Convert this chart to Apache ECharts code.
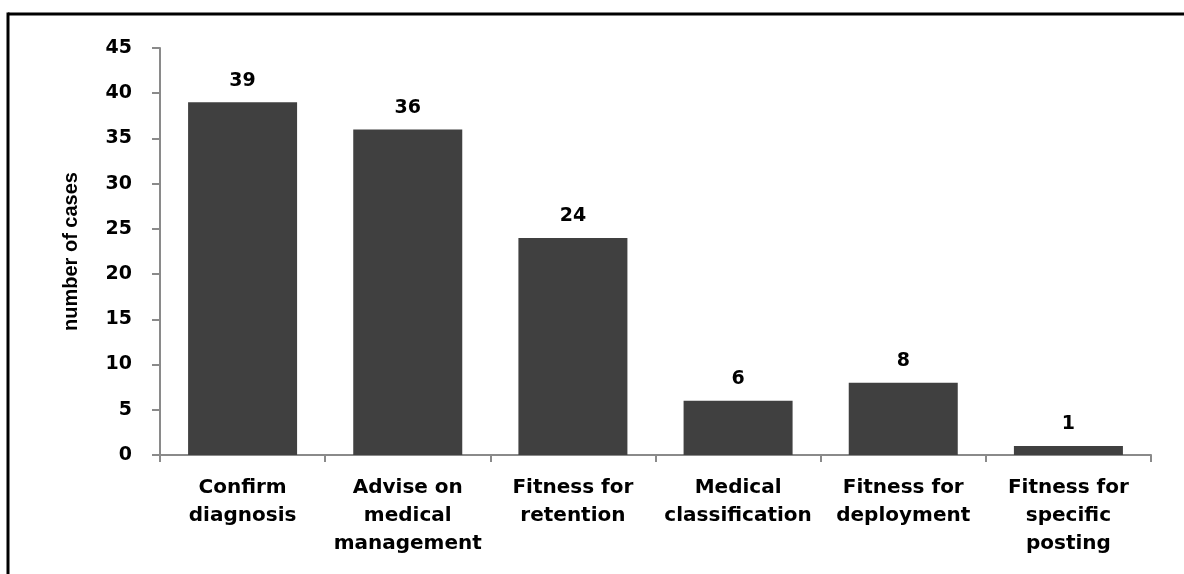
<!DOCTYPE html>
<html>
<head>
<meta charset="utf-8">
<script src="https://cdn.jsdelivr.net/npm/echarts@6/dist/echarts.min.js"></script>
<style>
html,body{margin:0;padding:0;background:#fff;overflow:hidden;}
#chart{width:1184px;height:574px;}
</style>
</head>
<body>
<div id="chart"></div>
<script>
var categories = ["Confirm\ndiagnosis", "Advise on\nmedical\nmanagement", "Fitness for\nretention", "Medical\nclassification", "Fitness for\ndeployment", "Fitness for\nspecific\nposting"];
var values = [39, 36, 24, 6, 8, 1];
var yTicks = {min: 0, max: 45, interval: 5};
var yName = "number of cases";

var chart = echarts.init(document.getElementById('chart'));
chart.setOption({
  animation: false,
  backgroundColor: '#ffffff',
  graphic: [
    {type: 'line', shape: {x1: 8, y1: 14, x2: 1184, y2: 14}, style: {stroke: '#000', lineWidth: 3, lineCap: 'butt'}, silent: true},
    {type: 'line', shape: {x1: 8, y1: 12.5, x2: 8, y2: 574}, style: {stroke: '#000', lineWidth: 3, lineCap: 'butt'}, silent: true}
  ],
  grid: {left: 160, right: 33, top: 48, bottom: 119, containLabel: false},
  xAxis: {
    type: 'category',
    data: categories,
    axisLine: {show: true, lineStyle: {color: '#8a8a8a', width: 2}},
    axisTick: {show: true, alignWithLabel: false, length: 7, lineStyle: {color: '#8a8a8a', width: 2}},
    axisLabel: {
      interval: 0, margin: 19, color: '#000',
      fontFamily: 'DejaVu Sans', fontWeight: 'bold', fontSize: 20, lineHeight: 28
    },
    splitLine: {show: false}
  },
  yAxis: {
    type: 'value',
    min: yTicks.min, max: yTicks.max, interval: yTicks.interval,
    name: yName,
    nameLocation: 'middle',
    nameGap: 79,
    nameRotate: 90,
    nameTextStyle: {fontFamily: 'Liberation Sans', fontWeight: 'bold', fontSize: 20, color: '#000'},
    axisLine: {show: true, lineStyle: {color: '#8a8a8a', width: 2}},
    axisTick: {show: true, length: 8, lineStyle: {color: '#8a8a8a', width: 2}},
    axisLabel: {margin: 28, color: '#000', fontFamily: 'DejaVu Sans', fontWeight: 'bold', fontSize: 19},
    splitLine: {show: false}
  },
  series: [{
    type: 'bar',
    data: values,
    barWidth: '66%',
    itemStyle: {color: '#404040'},
    label: {
      show: true, position: 'top', distance: 12, color: '#000',
      fontFamily: 'DejaVu Sans', fontWeight: 'bold', fontSize: 19
    }
  }]
});
</script>
</body>
</html>
